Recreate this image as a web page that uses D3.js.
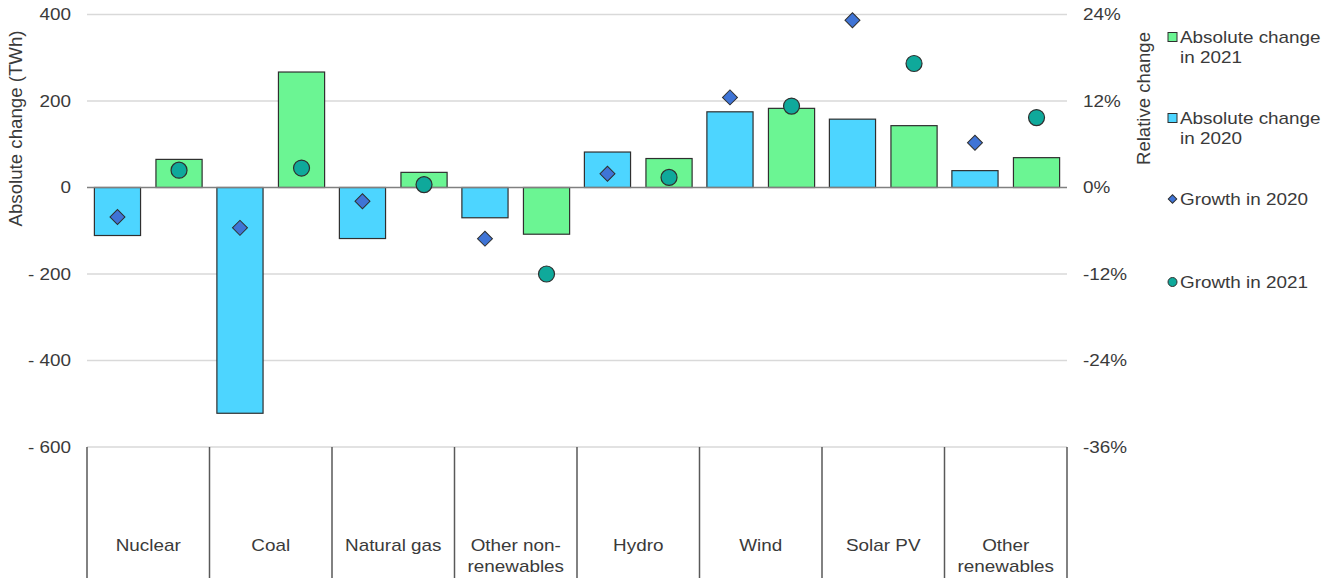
<!DOCTYPE html>
<html><head><meta charset="utf-8">
<script src="https://cdn.jsdelivr.net/npm/d3@7"></script>
<style>body{margin:0;background:#fff}svg{display:block}text{font-family:"Liberation Sans",Arial,sans-serif;fill:#3a3a3a}</style>
</head><body><svg id="c" width="1321" height="578"></svg>
<script>
const categories = ["Nuclear","Coal","Natural gas","Other non-renewables","Hydro","Wind","Solar PV","Other renewables"];
const categoryLines = [["Nuclear"],["Coal"],["Natural gas"],["Other non-","renewables"],["Hydro"],["Wind"],["Solar PV"],["Other","renewables"]];
const abs2020 = [-111, -522, -118, -70, 82, 175, 158, 39];
const abs2021 = [65, 267, 35, -108, 67, 183, 143, 69];
const growth2020 = [-4.1, -5.6, -1.9, -7.1, 1.9, 12.5, 23.2, 6.2];
const growth2021 = [2.4, 2.7, 0.4, -12.0, 1.4, 11.3, 17.2, 9.7];
const leftTicks = [400, 200, 0, -200, -400, -600];
const rightTicks = [24, 12, 0, -12, -24, -36];

const C = {b20:"#4DD5FF", b21:"#6BF593", d20:"#3F74D6", c21:"#0FA99B", stroke:"#2f2f2f"};
const SX = 1.18, FS = "16px";
const svg = d3.select("#c");
const L = 87, R = 1067, T = 14.5, B = 447;
const y = d3.scaleLinear().domain([-600,400]).range([B,T]);
const y2 = d3.scaleLinear().domain([-36,24]).range([B,T]);
const x = d3.scaleBand().domain(categories).range([L,R]).padding(0);
const inner = d3.scaleBand().domain(["2020","2021"]).range([0,x.bandwidth()]).paddingInner(0.25).paddingOuter(0.12);

function txt(g, px, py, s, anchor){
  return g.append("text").attr("transform",`translate(${px},${py}) scale(${SX},1)`)
    .attr("dy","0.35em").attr("text-anchor",anchor||"start").style("font-size",FS).text(s);
}

// gridlines
svg.append("g").selectAll("line").data(leftTicks.filter(d=>d!==0)).join("line")
  .attr("x1",L).attr("x2",R).attr("y1",d=>y(d)).attr("y2",d=>y(d))
  .attr("stroke","#d9d9d9").attr("stroke-width",1.5);

// axis labels
const fmtL = d => d<0 ? "- "+Math.abs(d) : String(d);
const gl = svg.append("g");
leftTicks.forEach(d=>txt(gl,71,y(d),fmtL(d),"end"));
const gr = svg.append("g");
rightTicks.forEach(d=>txt(gr,1083,y2(d),d+"%","start"));

// titles
svg.append("text").attr("transform",`translate(16,${128.5}) rotate(-90) scale(1,1.12)`).attr("text-anchor","middle")
  .attr("dy","0.35em").style("font-size","16px")
  .attr("textLength",196).attr("lengthAdjust","spacingAndGlyphs").text("Absolute change (TWh)");
svg.append("text").attr("transform",`translate(1144,${98.5}) rotate(-90) scale(1,1.12)`).attr("text-anchor","middle")
  .attr("dy","0.35em").style("font-size","16px")
  .attr("textLength",133).attr("lengthAdjust","spacingAndGlyphs").text("Relative change");

// bars
const bars = svg.append("g");
categories.forEach((c,i)=>{
  [["2020",abs2020[i],C.b20],["2021",abs2021[i],C.b21]].forEach(([k,v,col])=>{
    bars.append("rect").attr("x",x(c)+inner(k)).attr("width",inner.bandwidth())
      .attr("y",y(Math.max(0,v))).attr("height",Math.abs(y(v)-y(0)))
      .attr("fill",col).attr("stroke",C.stroke).attr("stroke-width",1.2);
  });
});

// zero line
svg.append("line").attr("x1",L).attr("x2",R).attr("y1",y(0)).attr("y2",y(0)).attr("stroke","#808080").attr("stroke-width",1.5);

// category axis
const cat = svg.append("g");
categories.concat(["__end"]).forEach((c,i)=>{
  const xx = i<categories.length ? x(c) : R;
  cat.append("line").attr("x1",xx).attr("x2",xx).attr("y1",B).attr("y2",578).attr("stroke","#595959").attr("stroke-width",1.5);
});
categories.forEach((c,i)=>{
  const lines = categoryLines[i];
  const cx = x(c)+x.bandwidth()/2;
  lines.forEach((t,j)=>txt(cat,cx,545+j*21.5,t,"middle"));
});

// markers
const diam = d3.symbol().type(d3.symbolSquare).size(112);
svg.append("g").selectAll("path").data(categories).join("path")
  .attr("d",diam).attr("transform",(c,i)=>`translate(${x(c)+inner("2020")+inner.bandwidth()/2},${y2(growth2020[i])}) rotate(45)`)
  .attr("fill",C.d20).attr("stroke",C.stroke).attr("stroke-width",1);
svg.append("g").selectAll("circle").data(categories).join("circle")
  .attr("cx",(c)=>x(c)+inner("2021")+inner.bandwidth()/2).attr("cy",(c,i)=>y2(growth2021[i])).attr("r",8)
  .attr("fill",C.c21).attr("stroke",C.stroke).attr("stroke-width",1.2);

// legend
const lg = svg.append("g");
const items = [
  {t:["Absolute change","in 2021"], y:37, type:"sq", col:C.b21},
  {t:["Absolute change","in 2020"], y:118, type:"sq", col:C.b20},
  {t:["Growth in 2020"], y:199, type:"di", col:C.d20},
  {t:["Growth in 2021"], y:282, type:"ci", col:C.c21}
];
items.forEach(it=>{
  if(it.type==="sq") lg.append("rect").attr("x",1168).attr("y",it.y-4.5).attr("width",9).attr("height",9).attr("fill",it.col).attr("stroke",C.stroke).attr("stroke-width",1);
  else if(it.type==="di") lg.append("path").attr("d",d3.symbol().type(d3.symbolSquare).size(36)).attr("transform",`translate(1172.5,${it.y}) rotate(45)`).attr("fill",it.col).attr("stroke",C.stroke).attr("stroke-width",1);
  else lg.append("circle").attr("cx",1172.5).attr("cy",it.y).attr("r",4.5).attr("fill",it.col).attr("stroke",C.stroke).attr("stroke-width",1);
  it.t.forEach((s,j)=>txt(lg,1180,it.y+j*20.5,s,"start"));
});
</script></body></html>
